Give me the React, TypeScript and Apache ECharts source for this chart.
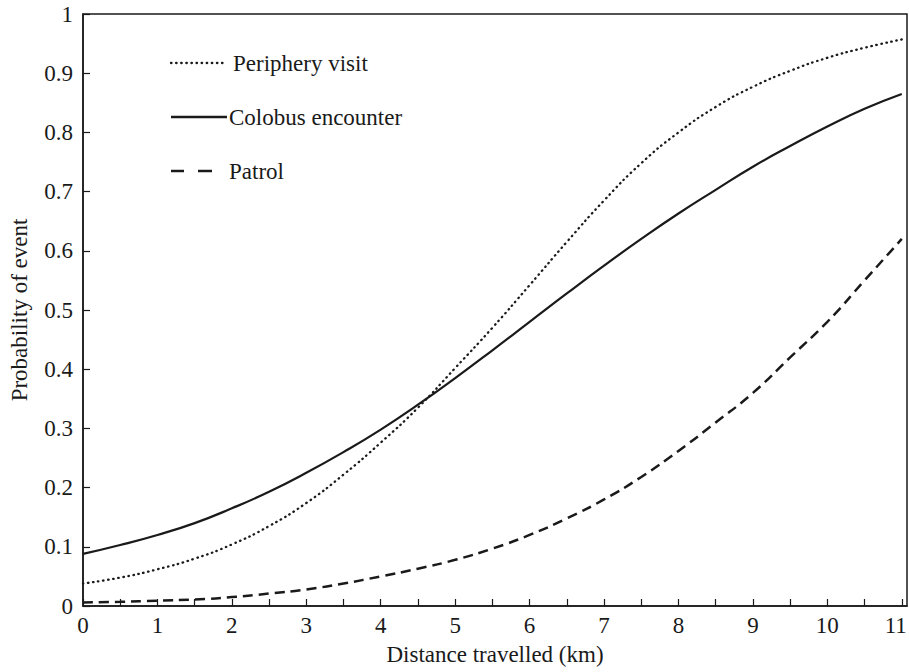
import React, { useEffect, useRef } from "react";
import * as echarts from "echarts";

const xValues = [0, 0.5, 1, 1.5, 2, 2.5, 3, 3.5, 4, 4.5, 5, 5.5, 6, 6.5, 7, 7.5, 8, 8.5, 9, 9.5, 10, 10.5, 11];
const colobus = [0.088, 0.103, 0.12, 0.14, 0.165, 0.193, 0.225, 0.26, 0.298, 0.34, 0.385, 0.432, 0.48, 0.528, 0.575, 0.62, 0.663, 0.703, 0.742, 0.777, 0.81, 0.84, 0.865];
const periphery = [0.038, 0.048, 0.062, 0.08, 0.104, 0.135, 0.174, 0.222, 0.276, 0.335, 0.402, 0.47, 0.542, 0.615, 0.685, 0.748, 0.8, 0.843, 0.877, 0.904, 0.926, 0.943, 0.957];
const patrol = [0.006, 0.007, 0.009, 0.011, 0.015, 0.021, 0.028, 0.038, 0.05, 0.063, 0.078, 0.097, 0.12, 0.148, 0.18, 0.218, 0.262, 0.31, 0.36, 0.42, 0.48, 0.55, 0.62];
const seriesNames = ["Periphery visit", "Colobus encounter", "Patrol"];
const xTitle = "Distance travelled (km)";
const yTitle = "Probability of event";

const FONT = "'Liberation Serif', 'Times New Roman', serif";
const INK = "#1a1a1a";
const FS = 23;
const LEG_FS = 23;

export default function App() {
  const ref = useRef<HTMLDivElement>(null);
  useEffect(() => {
    if (!ref.current) return;
    const chart = echarts.init(ref.current, null, { renderer: "svg" });
    const pairs = (ys: number[]) => xValues.map((x, i) => [x, ys[i]]);
    const textStyle = { fontFamily: FONT, fontSize: LEG_FS, fill: INK };
    chart.setOption({
      animation: false,
      backgroundColor: "#fff",
      grid: {
        left: 83, right: 2, top: 14, bottom: 66,
        containLabel: false, outerBoundsMode: "none",
        show: true, borderColor: INK, borderWidth: 1.5, backgroundColor: "transparent",
      },
      xAxis: {
        type: "value",
        min: 0,
        max: 11.07,
        interval: 0.5,
        name: xTitle,
        nameLocation: "middle",
        nameGap: 37,
        nameTextStyle: { fontFamily: FONT, fontSize: FS, color: INK },
        axisLine: { show: true, onZero: false, lineStyle: { color: INK, width: 1.5 } },
        axisTick: { show: true, inside: true, length: 7, lineStyle: { color: INK, width: 1.2 } },
        axisLabel: {
          margin: 8,
          fontFamily: FONT,
          fontSize: FS,
          color: INK,
          showMaxLabel: false,
          hideOverlap: false,
          formatter: (v: number) => {
            if (Math.abs(v - Math.round(v)) > 1e-6) return "";
            const r = Math.round(v);
            return r === 11 ? "{edge|11}" : String(r);
          },
          rich: {
            edge: { fontFamily: FONT, fontSize: FS, color: INK, padding: [0, 12, 0, 0] },
          },
        },
        splitLine: { show: false },
      },
      yAxis: {
        type: "value",
        min: 0,
        max: 1,
        interval: 0.1,
        name: yTitle,
        nameLocation: "middle",
        nameGap: 52,
        nameTextStyle: { fontFamily: FONT, fontSize: FS, color: INK },
        axisLine: { show: true, lineStyle: { color: INK, width: 1.5 } },
        axisTick: { show: true, inside: true, length: 7, lineStyle: { color: INK, width: 1.2 } },
        axisLabel: {
          margin: 10,
          fontFamily: FONT,
          fontSize: FS,
          color: INK,
          formatter: (v: number) => String(Math.round(v * 10) / 10),
        },
        splitLine: { show: false },
      },
      series: [
        {
          name: seriesNames[0],
          type: "line",
          data: pairs(periphery),
          smooth: true,
          showSymbol: false,
          lineStyle: { color: INK, width: 2.3, type: [0.5, 4.6], cap: "round" },
        },
        {
          name: seriesNames[1],
          type: "line",
          data: pairs(colobus),
          smooth: true,
          showSymbol: false,
          lineStyle: { color: INK, width: 2.2, type: "solid" },
        },
        {
          name: seriesNames[2],
          type: "line",
          data: pairs(patrol),
          smooth: true,
          showSymbol: false,
          lineStyle: { color: INK, width: 2.5, type: [10, 6] },
        },
      ],
      graphic: [
        { type: "line", shape: { x1: 171, y1: 63, x2: 225, y2: 63 }, style: { stroke: INK, lineWidth: 2.3, lineDash: [0.5, 4.6], lineCap: "round" } },
        { type: "text", x: 233, y: 63, style: { ...textStyle, text: seriesNames[0], verticalAlign: "middle" } },
        { type: "line", shape: { x1: 171, y1: 117, x2: 227, y2: 117 }, style: { stroke: INK, lineWidth: 2.4 } },
        { type: "text", x: 229, y: 117, style: { ...textStyle, text: seriesNames[1], verticalAlign: "middle" } },
        { type: "line", shape: { x1: 171, y1: 171, x2: 184, y2: 171 }, style: { stroke: INK, lineWidth: 2.5 } },
        { type: "line", shape: { x1: 198, y1: 171, x2: 212, y2: 171 }, style: { stroke: INK, lineWidth: 2.5 } },
        { type: "text", x: 229, y: 171, style: { ...textStyle, text: seriesNames[2], verticalAlign: "middle" } },
      ],
    });
    return () => chart.dispose();
  }, []);
  return <div ref={ref} style={{ width: 909, height: 672, position: "absolute", left: 0, top: 0 }} />;
}
